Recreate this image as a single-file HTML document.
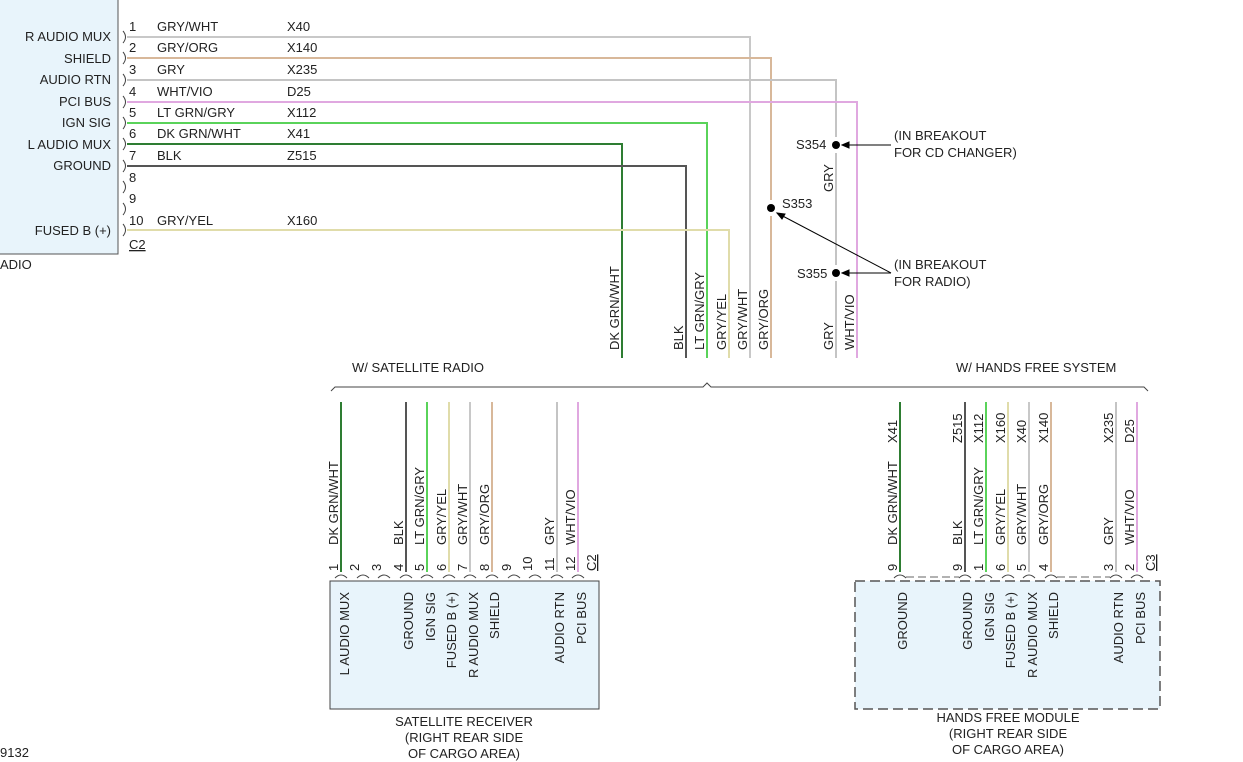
<!DOCTYPE html>
<html><head><meta charset="utf-8"><style>
html,body{margin:0;padding:0;background:#fff;}
svg{display:block;font-family:"Liberation Sans",sans-serif;font-size:13px;fill:#222;}
text{fill:#222;}
</style></head><body>
<svg width="1243" height="762" viewBox="0 0 1243 762" xmlns="http://www.w3.org/2000/svg">
<rect x="-2" y="-2" width="120" height="256" fill="#e8f4fb" stroke="#555" stroke-width="1"/>
<g text-anchor="end">
<text x="111" y="41">R AUDIO MUX</text>
<text x="111" y="63">SHIELD</text>
<text x="111" y="84">AUDIO RTN</text>
<text x="111" y="106">PCI BUS</text>
<text x="111" y="127">IGN SIG</text>
<text x="111" y="149">L AUDIO MUX</text>
<text x="111" y="170">GROUND</text>
<text x="111" y="235">FUSED B (+)</text>
</g>
<text x="0" y="269">ADIO</text>
<text x="0" y="757">9132</text>
<g fill="none" stroke="#444" stroke-width="1">
<path d="M123 31 q5 6 0 12"/><path d="M123 52 q5 6 0 12"/><path d="M123 74 q5 6 0 12"/>
<path d="M123 96 q5 6 0 12"/><path d="M123 117 q5 6 0 12"/><path d="M123 138 q5 6 0 12"/>
<path d="M123 160 q5 6 0 12"/><path d="M123 181 q5 6 0 12"/><path d="M123 203 q5 6 0 12"/>
<path d="M123 224 q5 6 0 12"/>
</g>
<g>
<text x="129" y="31">1</text><text x="129" y="52">2</text><text x="129" y="74">3</text>
<text x="129" y="96">4</text><text x="129" y="117">5</text><text x="129" y="138">6</text>
<text x="129" y="160">7</text><text x="129" y="182">8</text><text x="129" y="203">9</text>
<text x="129" y="225">10</text>
<text x="157" y="31">GRY/WHT</text><text x="287" y="31">X40</text>
<text x="157" y="52">GRY/ORG</text><text x="287" y="52">X140</text>
<text x="157" y="74">GRY</text><text x="287" y="74">X235</text>
<text x="157" y="96">WHT/VIO</text><text x="287" y="96">D25</text>
<text x="157" y="117">LT GRN/GRY</text><text x="287" y="117">X112</text>
<text x="157" y="138">DK GRN/WHT</text><text x="287" y="138">X41</text>
<text x="157" y="160">BLK</text><text x="287" y="160">Z515</text>
<text x="157" y="225">GRY/YEL</text><text x="287" y="225">X160</text>
</g>
<text x="129" y="249" text-decoration="underline">C2</text>
<g fill="none" stroke-width="2">
<path d="M127 37 H750 V358" stroke="#c8c8c8"/>
<path d="M127 58 H771 V200 M771 216 V358" stroke="#d8b89a"/>
<path d="M127 80 H836 V137 M836 153 V265 M836 281 V358" stroke="#c4c4c4"/>
<path d="M127 102 H857 V358" stroke="#e0a8e0"/>
<path d="M127 123 H707 V358" stroke="#5ad35a"/>
<path d="M127 144 H622 V358" stroke="#2e7d32"/>
<path d="M127 166 H686 V358" stroke="#555"/>
<path d="M127 230 H729 V358" stroke="#e0dcaa"/>
</g>
<circle cx="836" cy="145" r="4" fill="#000"/>
<circle cx="771" cy="208" r="4" fill="#000"/>
<circle cx="836" cy="273" r="4" fill="#000"/>
<text x="796" y="149">S354</text>
<text x="782" y="208">S353</text>
<text x="797" y="278">S355</text>
<g stroke="#000" stroke-width="1" fill="#000">
<line x1="844" y1="145" x2="891" y2="145"/><path d="M842 145 l7 -3 v6z"/>
<line x1="844" y1="273" x2="891" y2="273"/><path d="M842 273 l7 -3 v6z"/>
<line x1="777" y1="213" x2="891" y2="273"/><path d="M777 213 l8 1 l-3 5z"/>
</g>
<text x="894" y="140">(IN BREAKOUT</text>
<text x="894" y="157">FOR CD CHANGER)</text>
<text x="894" y="269">(IN BREAKOUT</text>
<text x="894" y="286">FOR RADIO)</text>
<g>
<text transform="translate(619,350) rotate(-90)">DK GRN/WHT</text>
<text transform="translate(683,350) rotate(-90)">BLK</text>
<text transform="translate(704,350) rotate(-90)">LT GRN/GRY</text>
<text transform="translate(726,350) rotate(-90)">GRY/YEL</text>
<text transform="translate(747,350) rotate(-90)">GRY/WHT</text>
<text transform="translate(768,350) rotate(-90)">GRY/ORG</text>
<text transform="translate(833,350) rotate(-90)">GRY</text>
<text transform="translate(833,192) rotate(-90)">GRY</text>
<text transform="translate(854,350) rotate(-90)">WHT/VIO</text>
</g>
<path d="M331 391 l4 -4 H703 l4 -4 l4 4 H1144 l4 4" fill="none" stroke="#444" stroke-width="1"/>
<text x="352" y="372">W/ SATELLITE RADIO</text>
<text x="956" y="372">W/ HANDS FREE SYSTEM</text>
<g fill="none" stroke-width="2">
<path d="M341 402 V572" stroke="#2e7d32"/>
<path d="M406 402 V572" stroke="#555"/>
<path d="M427 402 V572" stroke="#5ad35a"/>
<path d="M449 402 V572" stroke="#e0dcaa"/>
<path d="M470 402 V572" stroke="#c8c8c8"/>
<path d="M492 402 V572" stroke="#d8b89a"/>
<path d="M557 402 V572" stroke="#c4c4c4"/>
<path d="M578 402 V572" stroke="#e0a8e0"/>
</g>
<g fill="none" stroke="#444" stroke-width="1">
<path d="M335 578 q6 -6 12 0"/><path d="M357 578 q6 -6 12 0"/><path d="M378 578 q6 -6 12 0"/>
<path d="M400 578 q6 -6 12 0"/><path d="M421 578 q6 -6 12 0"/><path d="M443 578 q6 -6 12 0"/>
<path d="M464 578 q6 -6 12 0"/><path d="M486 578 q6 -6 12 0"/><path d="M508 578 q6 -6 12 0"/>
<path d="M529 578 q6 -6 12 0"/><path d="M551 578 q6 -6 12 0"/><path d="M572 578 q6 -6 12 0"/>
</g>
<g>
<text transform="translate(338,545) rotate(-90)">DK GRN/WHT</text>
<text transform="translate(403,545) rotate(-90)">BLK</text>
<text transform="translate(424,545) rotate(-90)">LT GRN/GRY</text>
<text transform="translate(446,545) rotate(-90)">GRY/YEL</text>
<text transform="translate(467,545) rotate(-90)">GRY/WHT</text>
<text transform="translate(489,545) rotate(-90)">GRY/ORG</text>
<text transform="translate(554,545) rotate(-90)">GRY</text>
<text transform="translate(575,545) rotate(-90)">WHT/VIO</text>
<text transform="translate(338,571) rotate(-90)">1</text>
<text transform="translate(359,571) rotate(-90)">2</text>
<text transform="translate(381,571) rotate(-90)">3</text>
<text transform="translate(403,571) rotate(-90)">4</text>
<text transform="translate(424,571) rotate(-90)">5</text>
<text transform="translate(446,571) rotate(-90)">6</text>
<text transform="translate(467,571) rotate(-90)">7</text>
<text transform="translate(489,571) rotate(-90)">8</text>
<text transform="translate(511,571) rotate(-90)">9</text>
<text transform="translate(532,571) rotate(-90)">10</text>
<text transform="translate(554,571) rotate(-90)">11</text>
<text transform="translate(575,571) rotate(-90)">12</text>
<text transform="translate(596,571) rotate(-90)" text-decoration="underline">C2</text>
</g>
<rect x="330" y="581" width="269" height="128" fill="#e8f4fb" stroke="#444" stroke-width="1"/>
<g text-anchor="end">
<text transform="translate(349,592) rotate(-90)">L AUDIO MUX</text>
<text transform="translate(413,592) rotate(-90)">GROUND</text>
<text transform="translate(435,592) rotate(-90)">IGN SIG</text>
<text transform="translate(456,592) rotate(-90)">FUSED B (+)</text>
<text transform="translate(478,592) rotate(-90)">R AUDIO MUX</text>
<text transform="translate(499,592) rotate(-90)">SHIELD</text>
<text transform="translate(564,592) rotate(-90)">AUDIO RTN</text>
<text transform="translate(586,592) rotate(-90)">PCI BUS</text>
</g>
<g text-anchor="middle">
<text x="464" y="726">SATELLITE RECEIVER</text>
<text x="464" y="742">(RIGHT REAR SIDE</text>
<text x="464" y="758">OF CARGO AREA)</text>
</g>
<g fill="none" stroke-width="2">
<path d="M900 402 V572" stroke="#2e7d32"/>
<path d="M965 402 V572" stroke="#555"/>
<path d="M986 402 V572" stroke="#5ad35a"/>
<path d="M1008 402 V572" stroke="#e0dcaa"/>
<path d="M1029 402 V572" stroke="#c8c8c8"/>
<path d="M1051 402 V572" stroke="#d8b89a"/>
<path d="M1116 402 V572" stroke="#c4c4c4"/>
<path d="M1137 402 V572" stroke="#e0a8e0"/>
</g>
<g fill="none" stroke="#444" stroke-width="1">
<path d="M894 578 q6 -6 12 0"/><path d="M959 578 q6 -6 12 0"/><path d="M980 578 q6 -6 12 0"/>
<path d="M1002 578 q6 -6 12 0"/><path d="M1023 578 q6 -6 12 0"/><path d="M1045 578 q6 -6 12 0"/>
<path d="M1110 578 q6 -6 12 0"/><path d="M1131 578 q6 -6 12 0"/>
</g>
<path d="M906 577 H959 M1057 577 H1110" stroke="#666" stroke-dasharray="8,4" fill="none"/>
<g>
<text transform="translate(897,545) rotate(-90)">DK GRN/WHT</text>
<text transform="translate(897,443) rotate(-90)">X41</text>
<text transform="translate(962,545) rotate(-90)">BLK</text>
<text transform="translate(962,443) rotate(-90)">Z515</text>
<text transform="translate(983,545) rotate(-90)">LT GRN/GRY</text>
<text transform="translate(983,443) rotate(-90)">X112</text>
<text transform="translate(1005,545) rotate(-90)">GRY/YEL</text>
<text transform="translate(1005,443) rotate(-90)">X160</text>
<text transform="translate(1026,545) rotate(-90)">GRY/WHT</text>
<text transform="translate(1026,443) rotate(-90)">X40</text>
<text transform="translate(1048,545) rotate(-90)">GRY/ORG</text>
<text transform="translate(1048,443) rotate(-90)">X140</text>
<text transform="translate(1113,545) rotate(-90)">GRY</text>
<text transform="translate(1113,443) rotate(-90)">X235</text>
<text transform="translate(1134,545) rotate(-90)">WHT/VIO</text>
<text transform="translate(1134,443) rotate(-90)">D25</text>
<text transform="translate(897,571) rotate(-90)">9</text>
<text transform="translate(962,571) rotate(-90)">9</text>
<text transform="translate(983,571) rotate(-90)">1</text>
<text transform="translate(1005,571) rotate(-90)">6</text>
<text transform="translate(1026,571) rotate(-90)">5</text>
<text transform="translate(1048,571) rotate(-90)">4</text>
<text transform="translate(1113,571) rotate(-90)">3</text>
<text transform="translate(1134,571) rotate(-90)">2</text>
<text transform="translate(1155,571) rotate(-90)" text-decoration="underline">C3</text>
</g>
<rect x="855" y="581" width="305" height="128" fill="#e8f4fb" stroke="#555" stroke-width="1.5" stroke-dasharray="10,5"/>
<g text-anchor="end">
<text transform="translate(907,592) rotate(-90)">GROUND</text>
<text transform="translate(972,592) rotate(-90)">GROUND</text>
<text transform="translate(994,592) rotate(-90)">IGN SIG</text>
<text transform="translate(1015,592) rotate(-90)">FUSED B (+)</text>
<text transform="translate(1037,592) rotate(-90)">R AUDIO MUX</text>
<text transform="translate(1058,592) rotate(-90)">SHIELD</text>
<text transform="translate(1123,592) rotate(-90)">AUDIO RTN</text>
<text transform="translate(1145,592) rotate(-90)">PCI BUS</text>
</g>
<g text-anchor="middle">
<text x="1008" y="722">HANDS FREE MODULE</text>
<text x="1008" y="738">(RIGHT REAR SIDE</text>
<text x="1008" y="754">OF CARGO AREA)</text>
</g>
</svg>
</body></html>
